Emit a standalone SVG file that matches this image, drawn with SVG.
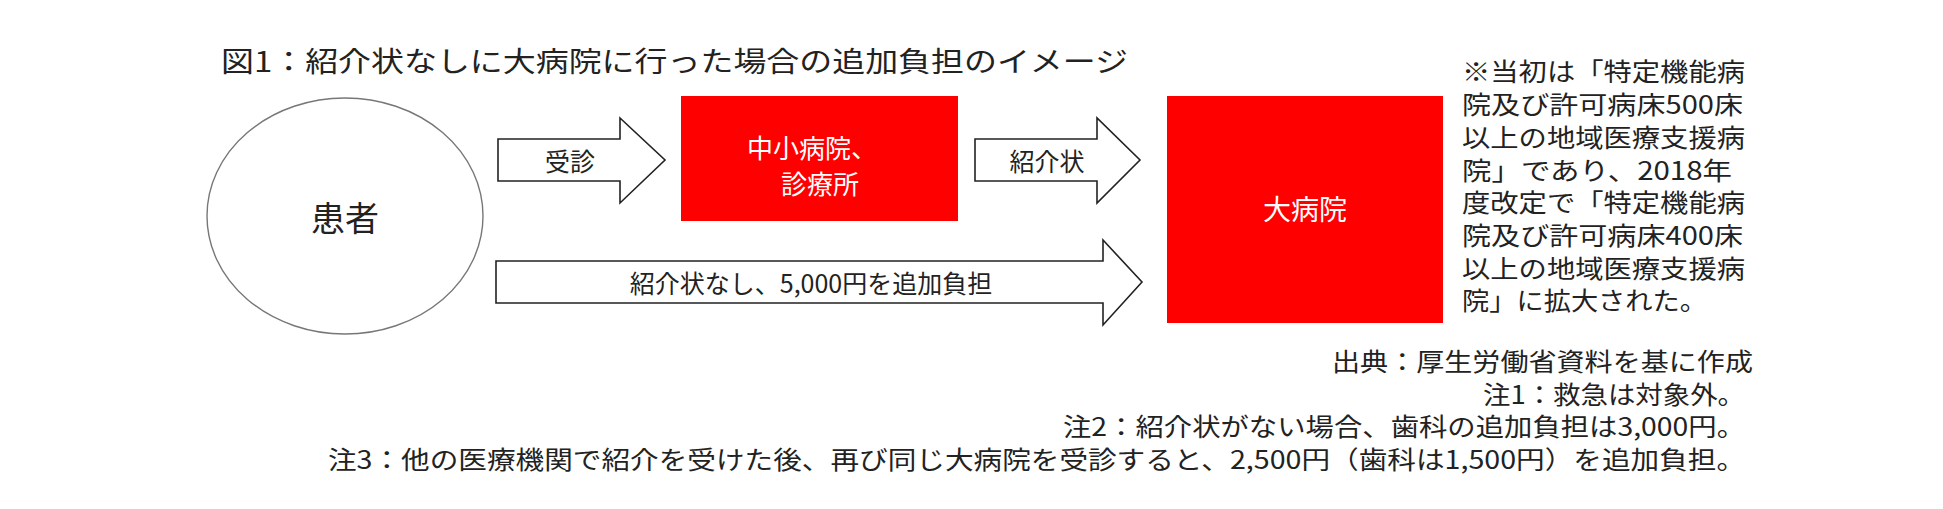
<svg xmlns="http://www.w3.org/2000/svg" width="1943" height="509" viewBox="0 0 1943 509">
<style>
text{font-family:"Noto Sans CJK JP","Noto Sans",sans-serif;fill:#222;dominant-baseline:central}
.w{fill:#fff;text-anchor:middle}
.m{text-anchor:middle}
.r{text-anchor:end}
.arr{fill:#fff;stroke:#222;stroke-width:1.6;stroke-linejoin:miter}
.red{fill:#ff0000}
</style>
<rect width="1943" height="509" fill="#fff"/>
<text x="221" y="60" font-size="28" textLength="907" lengthAdjust="spacingAndGlyphs">図1：紹介状なしに大病院に行った場合の追加負担のイメージ</text>
<g id="patient">
<ellipse cx="345" cy="216" rx="138" ry="118" fill="#fff" stroke="#777" stroke-width="1.4"/>
<text class="m" x="345" y="216" font-size="34">患者</text>
</g>
<g id="clinic">
<rect class="red" x="681" y="96" width="277" height="125"/>
<text class="w" x="812" y="146" font-size="26">中小病院、</text>
<text class="w" x="820" y="182" font-size="26">診療所</text>
</g>
<g id="bighospital">
<rect class="red" x="1167" y="96" width="276" height="227"/>
<text class="w" x="1305" y="208" font-size="28">大病院</text>
</g>
<g id="connectors">
<path class="arr" d="M498 139H620V118L665 160L620 203V181H498Z"/>
<text class="m" x="570" y="160" font-size="25">受診</text>
<path class="arr" d="M975 139H1097V118L1140 160L1097 203V181H975Z"/>
<text class="m" x="1047" y="160" font-size="25">紹介状</text>
<path class="arr" d="M496 261H1103V240L1142 282L1103 325V303H496Z"/>
<text class="m" x="811" y="282" font-size="25">紹介状なし、5,000円を追加負担</text>
</g>
<g id="note" font-size="25">
<text x="1462" y="70" textLength="283" lengthAdjust="spacingAndGlyphs">※当初は「特定機能病</text>
<text x="1462" y="103" textLength="281" lengthAdjust="spacingAndGlyphs">院及び許可病床500床</text>
<text x="1462" y="136" textLength="283" lengthAdjust="spacingAndGlyphs">以上の地域医療支援病</text>
<text x="1462" y="169" textLength="270" lengthAdjust="spacingAndGlyphs">院」であり、2018年</text>
<text x="1462" y="201" textLength="283" lengthAdjust="spacingAndGlyphs">度改定で「特定機能病</text>
<text x="1462" y="234" textLength="281" lengthAdjust="spacingAndGlyphs">院及び許可病床400床</text>
<text x="1462" y="267" textLength="283" lengthAdjust="spacingAndGlyphs">以上の地域医療支援病</text>
<text x="1462" y="299" textLength="245" lengthAdjust="spacingAndGlyphs">院」に拡大された。</text>
</g>
<g id="footnotes" font-size="25">
<text class="r" x="1753" y="360" textLength="421" lengthAdjust="spacingAndGlyphs">出典：厚生労働省資料を基に作成</text>
<text class="r" x="1745" y="393" textLength="262" lengthAdjust="spacingAndGlyphs">注1：救急は対象外。</text>
<text class="r" x="1745" y="425" textLength="682" lengthAdjust="spacingAndGlyphs">注2：紹介状がない場合、歯科の追加負担は3,000円。</text>
<text class="r" x="1745" y="458" textLength="1417" lengthAdjust="spacingAndGlyphs">注3：他の医療機関で紹介を受けた後、再び同じ大病院を受診すると、2,500円（歯科は1,500円）を追加負担。</text>
</g>
</svg>
